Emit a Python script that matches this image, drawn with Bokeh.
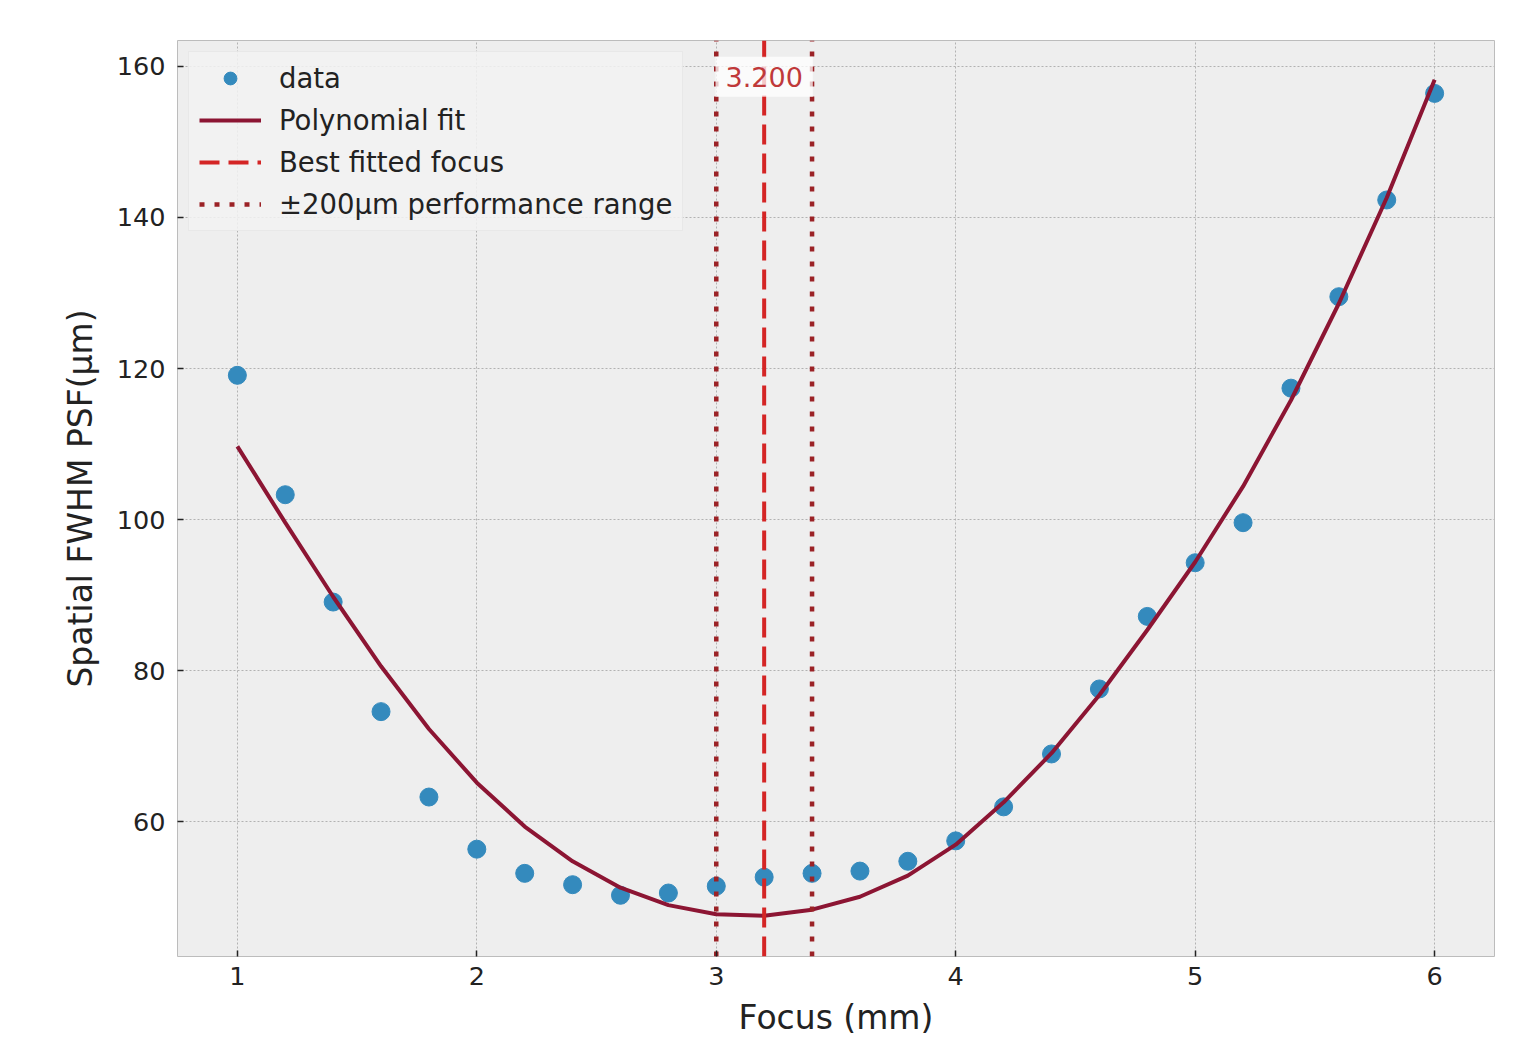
from bokeh.plotting import figure
from bokeh.models import Label, Range1d, Legend, LegendItem, FixedTicker
from bokeh.embed import file_html
from bokeh.resources import INLINE

# ---- data ----
focus = [1.0, 1.2, 1.4, 1.6, 1.8, 2.0, 2.2, 2.4, 2.6, 2.8, 3.0, 3.2, 3.4,
         3.6, 3.8, 4.0, 4.2, 4.4, 4.6, 4.8, 5.0, 5.2, 5.4, 5.6, 5.8, 6.0]
fwhm = [119.1, 103.3, 89.1, 74.6, 63.3, 56.4, 53.2, 51.7, 50.3, 50.6, 51.5,
        52.7, 53.2, 53.5, 54.8, 57.5, 62.0, 69.0, 77.6, 87.2, 94.3, 99.6,
        117.4, 129.5, 142.3, 156.4]
fit_x = focus
fit_y = [109.7, 99.6, 89.8, 80.6, 72.3, 65.2, 59.4, 54.8, 51.3, 49.0, 47.8,
         47.6, 48.4, 50.1, 52.9, 57.0, 62.6, 69.1, 76.8, 85.4, 94.4, 104.4,
         115.8, 128.6, 142.6, 158.2]
best_focus = 3.2
perf_range = 0.2
x_ticks = [1, 2, 3, 4, 5, 6]
y_ticks = [60, 80, 100, 120, 140, 160]
x_lo, x_hi = 0.75, 6.25
y_lo, y_hi = 42.2, 163.4

FONT = "DejaVu Sans"
TXT = "#222222"

p = figure(width=1527, height=1044, output_backend="svg", toolbar_location=None,
           x_range=Range1d(x_lo, x_hi), y_range=Range1d(y_lo, y_hi),
           min_border_left=177, min_border_right=33, min_border_top=40,
           min_border_bottom=88)
p.background_fill_color = "#eeeeee"
p.border_fill_color = "white"
p.outline_line_color = "#bcbcbc"
p.outline_line_width = 1

p.xaxis.ticker = FixedTicker(ticks=x_ticks)
p.yaxis.ticker = FixedTicker(ticks=y_ticks)
for ax in (p.xaxis, p.yaxis):
    ax.axis_line_color = None
    ax.major_tick_in = 6
    ax.major_tick_out = 0
    ax.minor_tick_line_color = None
    ax.major_tick_line_color = TXT
    ax.major_tick_line_width = 1.5
    ax.major_label_text_font = FONT
    ax.major_label_text_font_size = "25.5px"
    ax.major_label_text_color = TXT
    ax.axis_label_text_font = FONT
    ax.axis_label_text_font_size = "33px"
    ax.axis_label_text_font_style = "normal"
    ax.axis_label_text_color = TXT
p.xaxis.major_label_standoff = 10
p.yaxis.major_label_standoff = 12
p.xaxis.axis_label_standoff = 10
p.yaxis.axis_label_standoff = 14
p.xaxis.axis_label = "Focus (mm)"
p.yaxis.axis_label = "Spatial FWHM PSF(µm)"

p.grid.grid_line_color = "#b2b2b2"
p.grid.grid_line_dash = "2 2"
p.grid.grid_line_width = 1

r_data = p.scatter(focus, fwhm, size=18, color="#348ABD")
r_fit = p.line(fit_x, fit_y, line_color="#8c1533", line_width=4)

DASH_C = "#d42525"
DOT_C = "#9b2226"
r_best = p.segment(x0=[best_focus], y0=[y_lo], x1=[best_focus], y1=[y_hi],
                   line_color=DASH_C, line_width=4, line_dash="20 9")
r_range = p.segment(x0=[best_focus - perf_range, best_focus + perf_range],
                    y0=[y_lo, y_lo],
                    x1=[best_focus - perf_range, best_focus + perf_range],
                    y1=[y_hi, y_hi],
                    line_color=DOT_C, line_width=4.5, line_dash="5 10")

p.add_layout(Label(x=best_focus, y=158.6,
                   text=f"{best_focus:.3f}", text_align="center",
                   text_baseline="middle", text_font=FONT,
                   text_font_size="27px", text_color="#c0393a",
                   background_fill_color="white", background_fill_alpha=0.75,
                   padding=10))

legend = Legend(items=[
    LegendItem(label="data", renderers=[r_data]),
    LegendItem(label="Polynomial fit", renderers=[r_fit]),
    LegendItem(label="Best fitted focus", renderers=[r_best]),
    LegendItem(label="±200µm performance range", renderers=[r_range]),
], location="top_left")
legend.label_text_font = FONT
legend.label_text_font_size = "27.5px"
legend.label_text_color = TXT
legend.glyph_width = 62
legend.glyph_height = 32
legend.label_height = 32
legend.label_standoff = 18
legend.spacing = 10
legend.padding = 10
legend.margin = 11
legend.background_fill_color = "#f2f2f2"
legend.background_fill_alpha = 0.85
legend.border_line_color = "#dddddd"
legend.border_line_width = 1
p.add_layout(legend)

open("out.html", "w").write(file_html(p, INLINE))
